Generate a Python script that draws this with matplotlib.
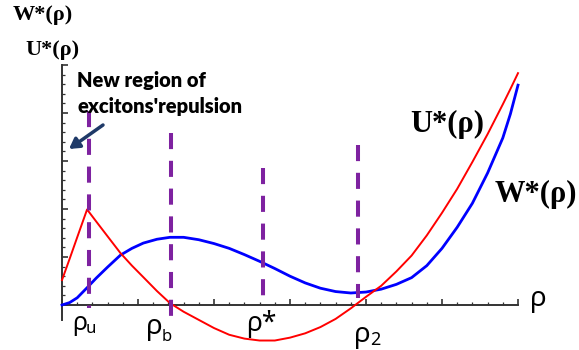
import numpy as np
import matplotlib
matplotlib.use('Agg')
import matplotlib.pyplot as plt
from matplotlib.ticker import MultipleLocator, FixedLocator

W, H = 579, 350

# values
rho = [0, 0.1, 0.2, 0.33, 0.45, 0.6, 0.77, 0.92, 1.07, 1.25, 1.42, 1.6, 1.8,
       2.0, 2.2, 2.4, 2.6, 2.8, 3.0, 3.2, 3.4, 3.6, 3.8, 4.0, 4.2, 4.4, 4.6,
       4.8, 5.0, 5.2, 5.4, 5.6, 5.8, 5.9, 6.0]
u_star = [0.52, 0.96, 1.41, 1.99, 1.74, 1.43, 1.08, 0.82, 0.58, 0.29, 0.04, -0.14, -0.31,
          -0.48, -0.62, -0.70, -0.74, -0.74, -0.68, -0.59, -0.46, -0.29, -0.07, 0.17, 0.40, 0.70, 1.03,
          1.45, 1.92, 2.42, 2.98, 3.56, 4.18, 4.50, 4.83]
w_star = [0, 0.05, 0.15, 0.36, 0.56, 0.79, 1.04, 1.18, 1.29, 1.37, 1.41, 1.41, 1.36,
          1.28, 1.18, 1.05, 0.91, 0.76, 0.60, 0.46, 0.35, 0.28, 0.25, 0.27, 0.33, 0.43, 0.57,
          0.82, 1.18, 1.62, 2.12, 2.75, 3.48, 3.98, 4.58]

# special points: rho_u, rho_b, rho*, rho_2
mark_x = [0.36, 1.44, 2.64, 3.9]
mark_top = [4.05, 3.58, 2.85, 3.33]
mark_bottom = [-0.06, -0.38, 0.15, 0.15]


def px(x, y):
    # pixel position -> figure fraction
    return x / W, 1 - y / H


fig = plt.figure(figsize=(W / 100, H / 100), dpi=100)
ax = fig.add_axes([62 / W, 30 / H, 456 / W, 255 / H])
ax.set_xlim(0, 6)
ax.set_ylim(-0.3125, 5)

ax.plot(rho, w_star, color='#0000ff', lw=2.0, clip_on=False, zorder=3)
ax.plot(rho, u_star, color='#ff0000', lw=1.4, clip_on=False, zorder=4)

for x, y0, y1 in zip(mark_x, mark_top, mark_bottom):
    ax.plot([x, x], [y0, y1], color='#7e22a0', lw=2.9, dashes=(4.0, 2.9),
            solid_capstyle='butt', dash_capstyle='butt', clip_on=False, zorder=5)

for s in ['top', 'right']:
    ax.spines[s].set_visible(False)
ax.spines['bottom'].set_position(('data', 0))
for s in ['bottom', 'left']:
    ax.spines[s].set_color('#333333')
    ax.spines[s].set_linewidth(1.4)

ax.xaxis.set_major_locator(MultipleLocator(1))
ax.xaxis.set_minor_locator(MultipleLocator(0.2))
ax.yaxis.set_major_locator(FixedLocator(np.arange(0, 5.01, 1)))
ax.yaxis.set_minor_locator(FixedLocator(np.arange(0, 5.01, 0.2)))
ax.tick_params(which='both', direction='in', color='#333333', labelbottom=False, labelleft=False)
ax.tick_params(which='major', length=4, width=1.2)
ax.tick_params(which='minor', length=2, width=0.9)

serif = dict(family='Liberation Serif', weight='bold', va='baseline', ha='left')
fig.text(*px(13, 20), 'W*(ρ)', fontsize=16, **serif)
fig.text(*px(25, 55), 'U*(ρ)', fontsize=16, **serif)
fig.text(*px(410, 132), 'U*(ρ)', fontsize=22, **serif)
fig.text(*px(495, 202), 'W*(ρ)', fontsize=22, **serif)

note = dict(family='Lato', weight='heavy', fontsize=14.5, va='baseline', ha='left')
fig.text(*px(77, 87), 'New region of', **note)
fig.text(*px(77, 113), "excitons'repulsion", **note)
fig.add_artist(plt.Annotation('', xy=px(69, 149), xytext=px(103, 125),
                              xycoords='figure fraction', textcoords='figure fraction',
                              arrowprops=dict(arrowstyle='-|>,head_length=0.6,head_width=0.35',
                                              color='#1f3a68', lw=2.5, shrinkA=0, shrinkB=0)))

rho_font = dict(family='Noto Sans', va='baseline', ha='left')
fig.text(*px(72, 330), 'ρ', fontsize=18, **rho_font)
fig.text(*px(86, 333), 'u', fontsize=12, weight='bold', **rho_font)
fig.text(*px(146, 334), 'ρ', fontsize=20, **rho_font)
fig.text(*px(162, 341), 'b', fontsize=12, weight='bold', **rho_font)
fig.text(*px(246, 331), 'ρ*', fontsize=19, **rho_font)
fig.text(*px(354, 342), 'ρ', fontsize=20, weight='bold', **rho_font)
fig.text(*px(370, 345), '2', fontsize=13, weight='bold', **rho_font)
fig.text(*px(530, 306), 'ρ', fontsize=20, **rho_font)

fig.savefig('out.png', dpi=100)
